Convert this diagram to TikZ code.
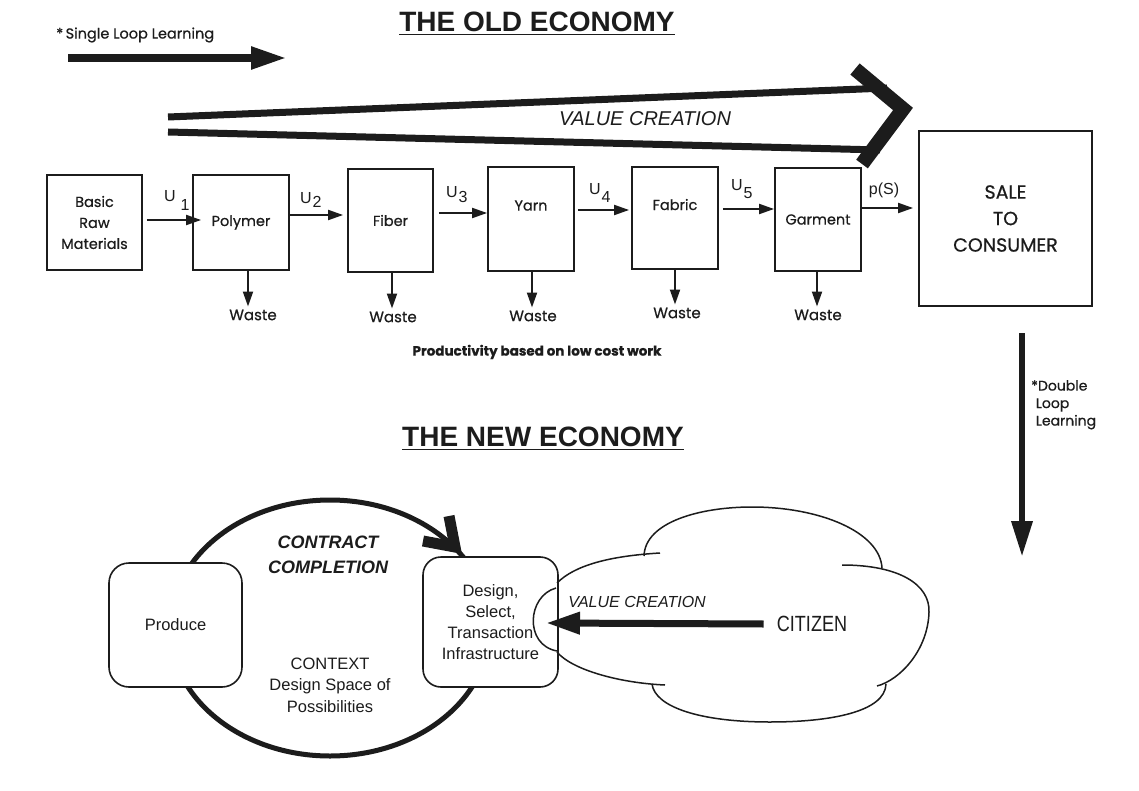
\documentclass[tikz,border=0pt]{standalone}
\usepackage{fontspec}
\setmainfont{Liberation Sans}
\newfontfamily\gothic{Poppins}[FakeBold=0.6]
\usetikzlibrary{arrows.meta}
\definecolor{ink}{HTML}{1C1C1C}
\begin{document}
\begin{tikzpicture}[x=1pt,y=-1pt,
  box/.style={draw=ink, line width=1.8pt, fill=white, inner sep=0pt, align=center, text=ink,
    font=\gothic\fontsize{14.5}{21}\selectfont},
  rbox/.style={draw=ink, line width=1.6pt, fill=white, inner sep=0pt, align=center, text=ink,
    rounded corners=20pt, font=\fontsize{16.5}{21}\selectfont},
  flow/.style={draw=ink, line width=2pt, -{Triangle[length=15pt,width=10pt]}},
  bigarrow/.style={draw=ink, line width=7pt, -{Triangle[length=34pt,width=21pt]}},
  lab/.style={inner sep=0pt, text=ink},
  ulab/.style={lab, font=\fontsize{16}{16}\selectfont},
  waste/.style={lab, inner sep=3pt, font=\gothic\fontsize{15}{15}\selectfont},
  title/.style={lab, font=\bfseries\fontsize{28}{28}\selectfont},
  cloud/.style={draw=ink, line width=1.5pt}
]
\useasboundingbox[fill=white] (0,0) rectangle (1139,791);

% ---------- THE OLD ECONOMY ----------
\node[title] (t1) at (537,22) {THE OLD ECONOMY};
\draw[ink, line width=1.6pt] ([yshift=-3pt]t1.base west) -- ([yshift=-3pt]t1.base east);

\node[lab, anchor=west, font=\gothic\fontsize{14.5}{14.5}\selectfont] (sll) at (56,35) {*\,Single Loop Learning};
\coordinate (sl0) at (68,58);
\coordinate (sl1) at (287,58);
\draw[draw=ink, line width=8pt, -{Triangle[length=36pt,width=21pt]}] (sl0) -- (sl1);

% value creation big arrow
\coordinate (va) at (168,117);
\coordinate (vb) at (887,88);
\coordinate (vc) at (168,132);
\coordinate (vd) at (880,150);
\coordinate (ch1) at (855,69);
\coordinate (ch2) at (903,109);
\coordinate (ch3) at (862,164);
\draw[ink, line width=7pt] (va) -- (vb);
\draw[ink, line width=7pt] (vc) -- (vd);
\draw[ink, line width=14.5pt, miter limit=10] (ch1) -- (ch2) -- (ch3);
\node[lab, font=\itshape\fontsize{20}{20}\selectfont] (vcl) at (645,119) {VALUE CREATION};

% boxes
\node[box, minimum width=95pt, minimum height=95pt] (raw) at (94.5,222.5) {Basic\\Raw\\Materials};
\node[box, minimum width=96pt, minimum height=95pt] (poly) at (241,222.5) {Polymer};
\node[box, minimum width=85pt, minimum height=103pt] (fib) at (390.5,220.5) {Fiber};
\node[box, minimum width=86pt, minimum height=104pt] (yarn) at (531,219) {Yarn\\[6pt]};
\node[box, minimum width=86pt, minimum height=102pt] (fab) at (675,218) {Fabric\\[6pt]};
\node[box, minimum width=86pt, minimum height=103pt] (gar) at (818,219.5) {Garment};
\node[box, minimum width=173pt, minimum height=175pt, font=\gothic\fontsize{19}{26.5}\selectfont] (sale) at (1005.5,218.5) {SALE\\TO\\CONSUMER};

% flow arrows
\draw[flow, shorten <=4pt, shorten >=-9pt] ([yshift=2.5pt]raw.east) -- ([yshift=2.5pt]raw.east -| poly.west);
\draw[flow, shorten >=4pt] ([yshift=7.5pt]poly.east) -- ([yshift=7.5pt]poly.east -| fib.west);
\draw[flow, shorten <=5pt] ([yshift=7.5pt]fib.east) -- ([yshift=7.5pt]fib.east -| yarn.west);
\draw[flow, shorten <=3pt, shorten >=2pt] ([yshift=9pt]yarn.east) -- ([yshift=9pt]yarn.east -| fab.west);
\draw[flow, shorten <=4pt] ([yshift=9pt]fab.east) -- ([yshift=9pt]fab.east -| gar.west);
\draw[flow, shorten >=5pt] ([yshift=11.5pt]gar.east) -- ([yshift=11.5pt]gar.east -| sale.west);

% U labels
\node[ulab] (u1) at (170,196) {U};
\node[ulab] (u1s) at (185,205) {1};
\node[ulab] (u2) at (306,198) {U};
\node[ulab] (u2s) at (317,202) {2};
\node[ulab] (u3) at (452,192) {U};
\node[ulab] (u3s) at (463,197) {3};
\node[ulab] (u4) at (595,189) {U};
\node[ulab] (u4s) at (606,197) {4};
\node[ulab] (u5) at (737,185) {U};
\node[ulab] (u5s) at (748,193) {5};
\node[ulab] (ps) at (884,190) {p(S)};

% waste
\node[waste] (w1) at (253,315) {Waste};
\node[waste] (w2) at (393,317) {Waste};
\node[waste] (w3) at (533,316) {Waste};
\node[waste] (w4) at (677,313) {Waste};
\node[waste] (w5) at (818,315) {Waste};
\draw[flow] (248,0 |- poly.south) -- (248,0 |- w1.north);
\draw[flow] (392,0 |- fib.south) -- (392,0 |- w2.north);
\draw[flow] (532,0 |- yarn.south) -- (532,0 |- w3.north);
\draw[flow] (675,0 |- fab.south) -- (675,0 |- w4.north);
\draw[flow] (817,0 |- gar.south) -- (817,0 |- w5.north);

\node[lab, font=\gothic\bfseries\fontsize{13.5}{13.5}\selectfont] (prodw) at (537,352) {Productivity based on low cost work};

% double loop
\coordinate (dl0) at (1022,333);
\coordinate (dl1) at (1022,557);
\draw[draw=ink, line width=6.5pt, -{Triangle[length=36pt,width=20pt]}] (dl0) -- (dl1);
\node[lab, anchor=north west, align=left, font=\gothic\fontsize{14}{17.5}\selectfont] (dll) at (1031,380) {*Double\\\,\,Loop\\\,\,Learning};

% ---------- THE NEW ECONOMY ----------
\node[title] (t2) at (543,437) {THE NEW ECONOMY};
\draw[ink, line width=1.6pt] ([yshift=-3pt]t2.base west) -- ([yshift=-3pt]t2.base east);

\draw[ink, line width=5pt] (330,628) ellipse [x radius=160, y radius=128];

\node[rbox, minimum width=133pt, minimum height=124pt] (prod) at (175.5,625) {Produce};
\node[rbox, minimum width=135pt, minimum height=130pt, rounded corners=18pt] (des) at (490.5,622) {Design,\\Select,\\Transaction\\Infrastructure};

\coordinate (cc1) at (423,541);
\coordinate (cc2) at (455,547);
\coordinate (cc3) at (449,516);
\draw[ink, line width=11pt, miter limit=10] (cc1) -- (cc2) -- (cc3);

\node[lab, align=center, font=\bfseries\itshape\fontsize{18}{25}\selectfont] (ccl) at (328,554.5) {CONTRACT\\COMPLETION};
\node[lab, align=center, font=\fontsize{16.5}{21.5}\selectfont] (ctx) at (330,685) {CONTEXT\\Design Space of\\Possibilities};

% cloud
\draw[cloud] (557,583) .. controls (575,565) and (610,556) .. (660,553);
\draw[cloud] (644,556) .. controls (645,522) and (700,507) .. (752,507) .. controls (820,507) and (880,532) .. (882,568);
\draw[cloud] (842,565) .. controls (900,565) and (930,585) .. (929,612) .. controls (928,650) and (900,680) .. (877,686);
\draw[cloud] (886,684) .. controls (885,712) and (830,722) .. (770,722) .. controls (700,722) and (655,707) .. (652,684);
\draw[cloud] (665,685) .. controls (620,683) and (572,670) .. (557,652);
\draw[cloud] (556,588) .. controls (527,596) and (524,645) .. (557,651);

\node[lab, font=\fontsize{22}{22}\selectfont] (cit) at (812,624) {\scalebox{0.82}[1]{CITIZEN}};
\coordinate (vtip) at (546,623);
\draw[bigarrow] ([xshift=-13pt]cit.west) -- (vtip);
\node[lab, font=\itshape\fontsize{16}{16}\selectfont] (vcl2) at (637,602) {VALUE CREATION};
\end{tikzpicture}
\end{document}
